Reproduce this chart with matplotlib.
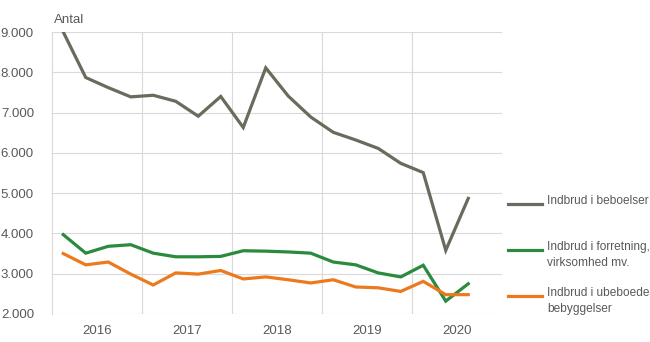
import matplotlib
matplotlib.use('Agg')
import matplotlib.pyplot as plt
from matplotlib.lines import Line2D

plt.rcParams['font.family'] = ['Liberation Sans', 'DejaVu Sans']

years = ['2016', '2017', '2018', '2019', '2020']
# quarterly values, 2016 Q1 - 2020 Q3
beboelser = [9000, 7870, 7620, 7390, 7430, 7280, 6910, 7400, 6630, 8110,
             7410, 6890, 6510, 6320, 6110, 5740, 5510, 3580, 4870]
forretning = [3970, 3510, 3680, 3720, 3510, 3420, 3420, 3430, 3570, 3560,
              3540, 3510, 3290, 3220, 3020, 2920, 3210, 2320, 2750]
ubeboede = [3500, 3220, 3290, 2990, 2720, 3020, 2990, 3080, 2870, 2920,
            2850, 2770, 2850, 2670, 2650, 2560, 2810, 2480, 2480]
labels = ['Indbrud i beboelser', 'Indbrud i forretning,\nvirksomhed mv.',
          'Indbrud i ubeboede\nbebyggelser']
colors = ['#6b6a5c', '#2a8a3e', '#ec7a1c']
txt = '#595959'

fig = plt.figure(figsize=(6.5, 3.42), dpi=100)
ax = fig.add_axes([0.08, 0.0819, 0.6923, 0.8245])

x = list(range(len(beboelser)))
for vals, col in zip([beboelser, forretning, ubeboede], colors):
    ax.plot(x, vals, color=col, linewidth=2.3, solid_joinstyle='miter', zorder=3)

ax.set_xlim(-0.5, 19.5)
ax.set_ylim(2000, 9000)
ax.set_yticks(range(2000, 9001, 1000))
ax.set_yticklabels([f'{v // 1000}.000' for v in range(2000, 9001, 1000)])
ax.set_xticks([1.5 + 4 * i for i in range(len(years))])
ax.set_xticklabels(years)
ax.tick_params(length=0, colors=txt, labelsize=9.5)
ax.tick_params(axis='y', pad=13)
ax.tick_params(axis='x', pad=8)
ax.grid(axis='y', color='#d9d9d9', linewidth=0.8)
for b in [3.5, 7.5, 11.5, 15.5]:
    ax.axvline(b, color='#d9d9d9', linewidth=0.8, zorder=1)
for s in ['top', 'right', 'bottom']:
    ax.spines[s].set_visible(False)
ax.spines['left'].set_color('#d9d9d9')
ax.spines['left'].set_linewidth(0.8)

fig.text(0.083, 0.925, 'Antal', color=txt, fontsize=9.5, ha='left', va='bottom')

# legend
leg_y = [204, 250, 296]
for y, col, lab in zip(leg_y, colors, labels):
    fy = 1 - y / 342
    fig.add_artist(Line2D([508 / 650, 542 / 650], [fy, fy], color=col, linewidth=2.3,
                          transform=fig.transFigure))
    fig.text(547 / 650, fy + 0.027, lab, color=txt, fontsize=8.6, ha='left', va='top',
             linespacing=1.5)

fig.savefig('out.png', dpi=100)
